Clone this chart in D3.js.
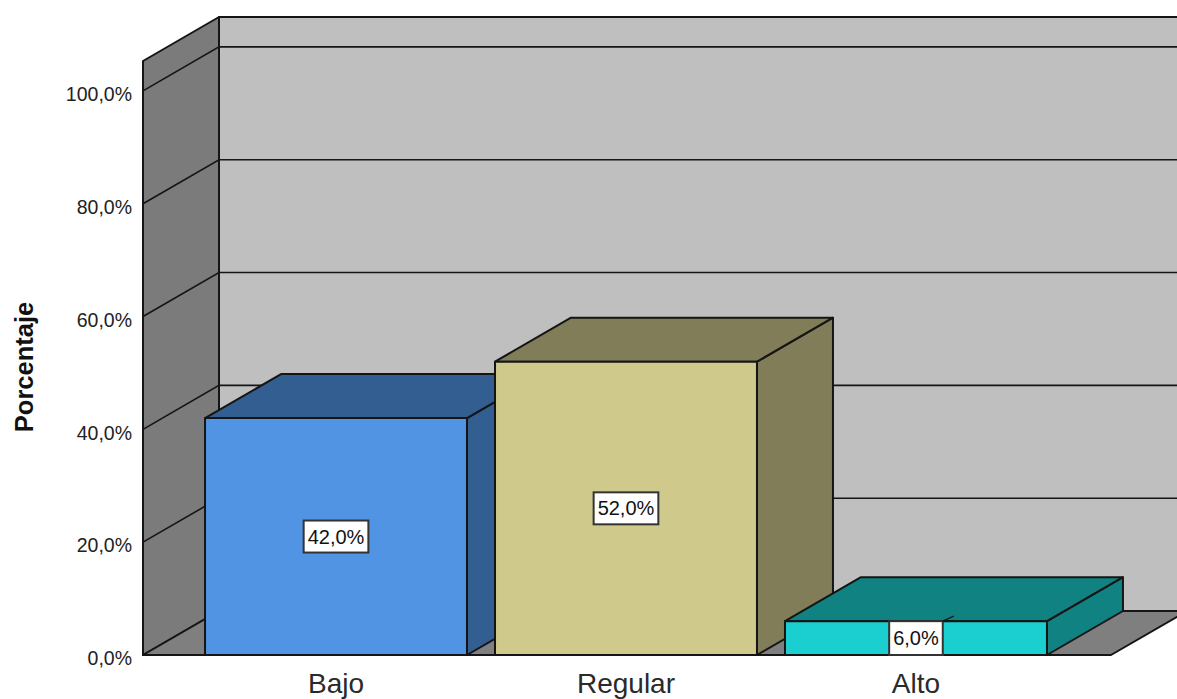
<!DOCTYPE html>
<html>
<head>
<meta charset="utf-8">
<script src="https://cdn.jsdelivr.net/npm/d3@7"></script>
<style>
    html, body { margin: 0; background: #fff; overflow: hidden; }
    svg { display: block; font-family: "Liberation Sans", Arial, sans-serif; }
    .y-axis text { font-size: 19.5px; fill: #222; }
    .y-axis path, .y-axis line { display: none; }
    .x-label { font-size: 28px; fill: #2a2a2a; text-anchor: middle; }
    .y-title { font-size: 25.5px; font-weight: bold; fill: #111; text-anchor: middle; }
    .value-label { font-size: 20px; fill: #111; text-anchor: middle; }
</style>
</head>
<body>
<div id="chart"></div>
<script>
const categories = ["Bajo", "Regular", "Alto"];
const percentages = [42, 52, 6];
const valueLabels = ["42,0%", "52,0%", "6,0%"];
const tickValues = [0, 20, 40, 60, 80, 100];
const frontColors = ["#5294e4", "#cfca8c", "#1bcfd0"];
const darkColors = ["#325e92", "#817d58", "#118282"];

const width = 1177, height = 699;
const margin = {left: 143, right: 66, bottom: 44, top: 61};
// offset of the back plane from the front plane
const depth = {x: 76, y: -44};
const lineColor = "#151515";

const svg = d3.select("#chart").append("svg")
    .attr("width", width)
    .attr("height", height);

const x = d3.scaleBand()
    .domain(categories)
    .range([margin.left, width - margin.right])
    .paddingInner(0.0966)
    .paddingOuter(0.2174)
    .align(0.492);

const y = d3.scaleLinear()
    .domain([0, 105.3])
    .range([height - margin.bottom, margin.top]);

const polygon = pts => "M" + pts.map(p => p.join(",")).join("L") + "Z";

function face(group, pts, fill) {
    group.append("path")
        .attr("d", polygon(pts))
        .attr("fill", fill)
        .attr("stroke", lineColor)
        .attr("stroke-width", 2)
        .attr("stroke-linejoin", "round");
}

const x0 = x.range()[0], x1 = x.range()[1];
const yBottom = y(0), yTop = y.range()[1];

// walls and floor
const box = svg.append("g");
face(box, [[x0 + depth.x, yBottom + depth.y], [x1 + depth.x, yBottom + depth.y],
    [x1 + depth.x, yTop + depth.y], [x0 + depth.x, yTop + depth.y]], "#bfbfbf");
face(box, [[x0, yBottom], [x0 + depth.x, yBottom + depth.y],
    [x0 + depth.x, yTop + depth.y], [x0, yTop]], "#7b7b7b");
face(box, [[x0, yBottom], [x1, yBottom],
    [x1 + depth.x, yBottom + depth.y], [x0 + depth.x, yBottom + depth.y]], "#7f7f7f");

// gridlines run along the left wall, then across the back wall
box.selectAll(".grid")
    .data(tickValues.slice(1))
    .join("path")
    .attr("class", "grid")
    .attr("fill", "none")
    .attr("stroke", lineColor)
    .attr("stroke-width", 1.6)
    .attr("d", d => `M${x0},${y(d)}L${x0 + depth.x},${y(d) + depth.y}L${x1 + depth.x},${y(d) + depth.y}`);

// bars, left to right so each one covers the side of the previous
const bars = svg.append("g");
categories.forEach((cat, i) => {
    const l = x(cat), r = l + x.bandwidth();
    const t = y(percentages[i]), b = y(0);
    const g = bars.append("g");
    face(g, [[r, b], [r + depth.x, b + depth.y], [r + depth.x, t + depth.y], [r, t]], darkColors[i]);
    face(g, [[l, t], [r, t], [r + depth.x, t + depth.y], [l + depth.x, t + depth.y]], darkColors[i]);
    face(g, [[l, b], [r, b], [r, t], [l, t]], frontColors[i]);
});

// value labels in white boxes at the middle of each bar's front
categories.forEach((cat, i) => {
    const cx = x(cat) + x.bandwidth() / 2;
    const cy = (y(percentages[i]) + y(0)) / 2;
    const text = svg.append("text")
        .attr("class", "value-label")
        .attr("x", cx)
        .attr("y", cy + 7)
        .text(valueLabels[i]);
    const w = text.node().getComputedTextLength() + 8;
    const h = percentages[i] < 10 ? y(0) - y(percentages[i]) : 32;
    svg.insert("rect", ".value-label")
        .attr("x", cx - w / 2)
        .attr("y", cy - h / 2)
        .attr("width", w)
        .attr("height", h)
        .attr("fill", "#fff")
        .attr("stroke", "#333")
        .attr("stroke-width", 2);
    // short leader above a label that fills its bar
    if (percentages[i] < 10) {
        svg.append("line")
            .attr("x1", cx + w / 2)
            .attr("y1", y(percentages[i]))
            .attr("x2", cx + w / 2 + 11)
            .attr("y2", y(percentages[i]) - 5)
            .attr("stroke", lineColor)
            .attr("stroke-width", 1.5);
    }
});

// axes
const yAxis = d3.axisLeft(y)
    .tickValues(tickValues)
    .tickSize(0)
    .tickPadding(0)
    .tickFormat(d => d.toFixed(1).replace(".", ",") + "%");

const yAxisG = svg.append("g")
    .attr("class", "y-axis")
    .attr("transform", `translate(${x0 - 11},0)`)
    .call(yAxis);
yAxisG.selectAll("text").attr("dy", "0.5em");

svg.selectAll(".x-label")
    .data(categories)
    .join("text")
    .attr("class", "x-label")
    .attr("x", d => x(d) + x.bandwidth() / 2)
    .attr("y", 693)
    .text(d => d);

svg.append("text")
    .attr("class", "y-title")
    .attr("transform", "translate(33,367) rotate(-90)")
    .text("Porcentaje");
</script>
</body>
</html>
